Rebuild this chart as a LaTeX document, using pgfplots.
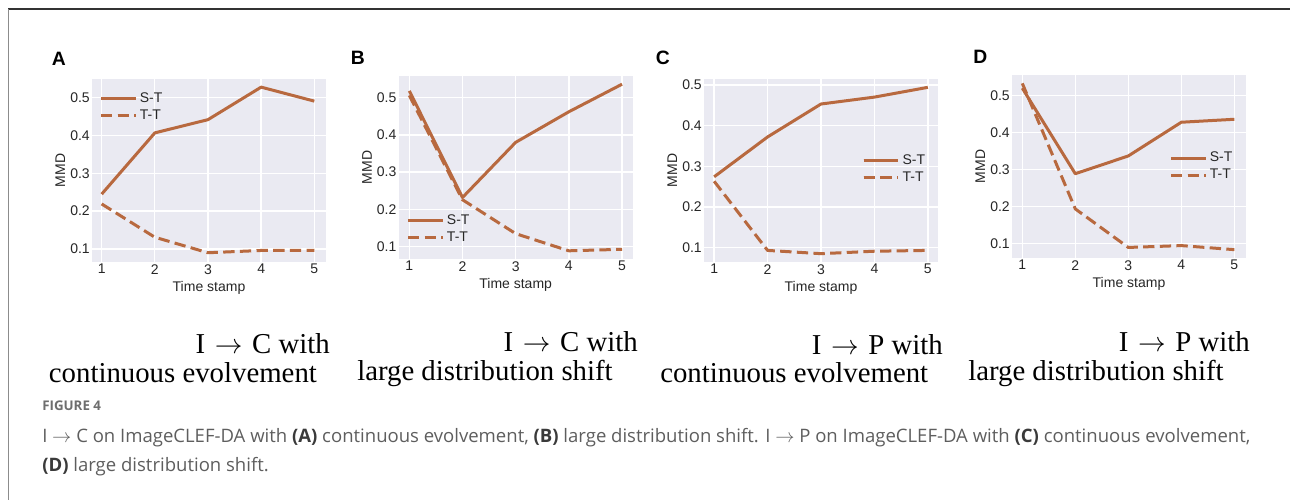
\documentclass[border=0pt]{standalone}
\usepackage{pgfplots}
\pgfplotsset{compat=1.18}
\usepackage{fontspec}
\setmainfont{Liberation Serif}
\setsansfont{Liberation Sans}
\newfontfamily\capfont{Open Sans}
\definecolor{ln}{HTML}{B8693F}
\definecolor{bg}{HTML}{EAEAF2}
\definecolor{txt}{HTML}{262626}
\definecolor{capgray}{HTML}{5E5E5E}
\definecolor{capdark}{HTML}{3A3A3A}
\tikzset{
  st/.style={ln, line width=2.25pt, line join=round},
  tt/.style={ln, line width=2.25pt, line join=round, dash pattern=on 8.5pt off 4pt},
}
\pgfplotsset{
 panel/.style={
  scale only axis, width=175.5pt, height=137.25pt, anchor=south west,
  axis background/.style={fill=bg},
  axis line style={draw=none},
  grid=major, major grid style={white, line width=1pt},
  major tick length=0pt,
  xtick={1,2,3,4,5}, ytick={0.1,0.2,0.3,0.4,0.5},
  tick label style={font=\fontsize{10.5}{12}\sffamily, text=txt},
  /pgf/number format/assume math mode=true,
  yticklabel style={inner sep=1.5pt},
  xticklabel style={inner sep=1.5pt},
  label style={font=\fontsize{10.5}{12}\sffamily, text=txt},
  xlabel={Time stamp}, ylabel={MMD},
  xlabel style={at={(axis description cs:0.5,-0.14)}, anchor=center},
  ylabel style={at={(axis description cs:-0.135,0.5)}, anchor=center},
  legend style={draw=none, fill=none, inner sep=0pt, font=\fontsize{10.5}{12}\sffamily, text=txt, anchor=west},
  legend cell align=left,
  legend image code/.code={\draw[##1] (0pt,0pt) -- (22.5pt,0pt); \path (0pt,0pt) -- (26pt,0pt);},
 }
}
\begin{document}
\begin{tikzpicture}
\path[use as bounding box] (0,0) rectangle (967.5pt,-375pt);
\draw[color=black!80, line width=1.1pt] (6pt,-6.75pt) -- (967.5pt,-6.75pt);
\draw[color=black!45, line width=0.75pt] (6pt,-6.75pt) -- (6pt,-375pt);

% Panel A
\begin{axis}[panel, at={(69pt,-196.5pt)}, xmin=0.818, xmax=5.22, ymin=0.0655, ymax=0.5495,
  legend style={at={(0.031,0.845)}}]
\addplot[st] coordinates {(1,0.245) (2,0.407) (3,0.442) (4,0.528) (5,0.491)};
\addlegendentry{S-T}
\addplot[tt] coordinates {(1,0.219) (2,0.131) (3,0.090) (4,0.096) (5,0.096)};
\addlegendentry{T-T}
\end{axis}

% Panel B
\begin{axis}[panel, at={(299pt,-194.25pt)}, xmin=0.8, xmax=5.2, ymin=0.067, ymax=0.558,
  legend style={at={(0.033,0.164)}}]
\addplot[st] coordinates {(1,0.518) (2,0.232) (3,0.380) (4,0.462) (5,0.536)};
\addlegendentry{S-T}
\addplot[tt] coordinates {(1,0.506) (2,0.226) (3,0.135) (4,0.089) (5,0.093)};
\addlegendentry{T-T}
\end{axis}

% Panel C
\begin{axis}[panel, at={(528pt,-196.5pt)}, xmin=0.81, xmax=5.19, ymin=0.0645, ymax=0.5145,
  legend style={at={(0.675,0.508)}}]
\addplot[st] coordinates {(1,0.274) (2,0.372) (3,0.453) (4,0.470) (5,0.494)};
\addlegendentry{S-T}
\addplot[tt] coordinates {(1,0.263) (2,0.093) (3,0.085) (4,0.091) (5,0.093)};
\addlegendentry{T-T}
\end{axis}

% Panel D
\begin{axis}[panel, at={(759pt,-193.5pt)}, xmin=0.806, xmax=5.22, ymin=0.0615, ymax=0.5555,
  legend style={at={(0.672,0.5)}}]
\addplot[st] coordinates {(1,0.520) (2,0.289) (3,0.337) (4,0.428) (5,0.436)};
\addlegendentry{S-T}
\addplot[tt] coordinates {(1,0.533) (2,0.194) (3,0.090) (4,0.095) (5,0.084)};
\addlegendentry{T-T}
\end{axis}

% Panel letters
\begin{scope}[every node/.style={font=\fontsize{14.5}{16}\sffamily\bfseries, text=black, inner sep=0pt}]
\node at (44.2pt,-43.9pt) {A};
\node at (268.3pt,-43.5pt) {B};
\node at (497.1pt,-43.5pt) {C};
\node at (735.2pt,-42.75pt) {D};
\end{scope}

% Sub-captions
\begin{scope}[every node/.style={font=\fontsize{21.6}{25}\selectfont, text=black, inner sep=0pt}]
\node[anchor=base east] at (247.5pt,-264.75pt) {I\,\,$\rightarrow$\,\,C with};
\node[anchor=base west] at (36.5pt,-286.5pt) {continuous evolvement};
\node[anchor=base east] at (478.5pt,-263.25pt) {I\,\,$\rightarrow$\,\,C with};
\node[anchor=base west] at (267.75pt,-285pt) {large distribution shift};
\node[anchor=base east] at (707.25pt,-265.5pt) {I\,\,$\rightarrow$\,\,P with};
\node[anchor=base west] at (495pt,-286.5pt) {continuous evolvement};
\node[anchor=base east] at (937.5pt,-263.25pt) {I\,\,$\rightarrow$\,\,P with};
\node[anchor=base west] at (726pt,-285pt) {large distribution shift};
\end{scope}

% Figure caption
\node[anchor=base west, inner sep=0pt, font=\capfont\bfseries\fontsize{10}{12}\selectfont, text=capgray!90] at (31.5pt,-307.5pt) {FIGURE 4};
\begin{scope}[every node/.style={anchor=base west, inner sep=0pt, font=\capfont\fontsize{13.9}{16}\selectfont, text=capgray}]
\node at (31.5pt,-331.5pt) {I $\rightarrow$ C on ImageCLEF-DA with \textcolor{capdark}{\bfseries(A)} continuous evolvement, \textcolor{capdark}{\bfseries(B)} large distribution shift. I $\rightarrow$ P on ImageCLEF-DA with \textcolor{capdark}{\bfseries(C)} continuous evolvement,};
\node at (31.5pt,-353.25pt) {\textcolor{capdark}{\bfseries(D)} large distribution shift.};
\end{scope}
\end{tikzpicture}
\end{document}
